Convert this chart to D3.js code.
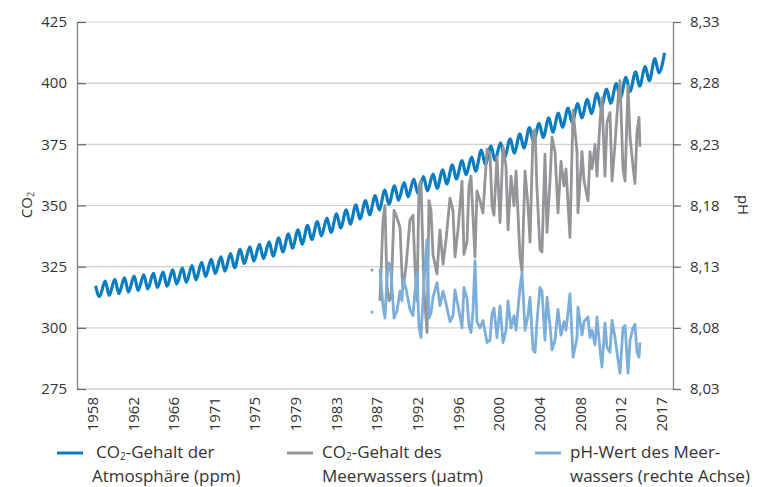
<!DOCTYPE html>
<html>
<head>
<meta charset="utf-8">
<script src="https://cdn.jsdelivr.net/npm/d3@7"></script>
<style>
  html, body { margin: 0; padding: 0; background: #fff; }
  svg { display: block; font-family: "Open Sans", sans-serif; }
</style>
</head>
<body>
<svg id="chart" width="765" height="487"></svg>
<script>
// ---------------- DATA ----------------
const xTickLabels = ["1958","1962","1966","1971","1975","1979","1983","1987","1992","1996","2000","2004","2008","2012","2017"];
const leftTicks = [275, 300, 325, 350, 375, 400, 425];
const rightTicks = [8.03, 8.08, 8.13, 8.18, 8.23, 8.28, 8.33];

// Atmospheric CO2 (ppm): yearly seasonal maximum and minimum
const atmYears = [1958,1959,1960,1961,1962,1963,1964,1965,1966,1967,1968,1969,1970,1971,1972,1973,1974,1975,1976,1977,1978,1979,1980,1981,1982,1983,1984,1985,1986,1987,1988,1989,1990,1991,1992,1993,1994,1995,1996,1997,1998,1999,2000,2001,2002,2003,2004,2005,2006,2007,2008,2009,2010,2011,2012,2013,2014,2015,2016,2017];
const atmPeak = [317.2,319.1,319.8,320.4,321.1,321.7,322.3,322.8,323.7,324.4,325.4,326.8,328.0,329.0,330.3,332.1,333.1,334.1,335.1,336.8,338.4,340.0,341.9,343.4,344.8,346.6,348.2,350.3,352.0,354.0,356.3,358.0,359.4,360.8,361.8,362.8,364.6,366.6,368.4,369.8,372.6,374.3,375.6,377.2,379.3,381.8,383.6,385.8,387.8,389.8,391.6,393.4,395.8,397.6,399.8,402.4,404.6,406.8,410.0,412.4];
const atmTrough = [312.8,313.3,314.0,314.6,315.3,315.9,316.5,317.0,317.9,318.6,319.6,321.0,322.2,323.2,324.5,326.3,327.3,328.3,329.3,331.0,332.6,334.2,336.1,337.6,339.0,340.8,342.4,344.5,346.2,348.2,350.5,352.2,353.6,355.0,356.0,357.0,358.8,360.8,362.6,364.0,366.8,368.5,369.8,371.4,373.5,376.0,377.8,380.0,382.0,384.0,385.8,387.6,390.0,391.8,394.0,396.6,398.8,401.0,404.2];

// Sea water samples: dates, CO2 (µatm) and pH
const seaDates = [1987.03,1987.86,1988.17,1988.38,1988.59,1988.80,1989.00,1989.32,1989.63,1989.94,1990.14,1990.25,1990.56,1990.97,1991.28,1991.49,1991.70,1991.91,1992.11,1992.43,1992.74,1992.94,1993.15,1993.36,1993.77,1994.08,1994.40,1994.71,1995.12,1995.43,1995.64,1995.95,1996.37,1996.57,1996.88,1997.09,1997.30,1997.51,1997.71,1997.92,1998.23,1998.54,1998.96,1999.27,1999.48,1999.68,1999.99,2000.31,2000.62,2000.93,2001.14,2001.45,2001.76,2001.97,2002.38,2002.59,2002.90,2003.21,2003.42,2003.73,2003.94,2004.14,2004.45,2004.66,2004.97,2005.18,2005.49,2005.70,2006.01,2006.32,2006.63,2006.94,2007.15,2007.56,2007.88,2008.29,2008.39,2008.81,2009.02,2009.43,2009.64,2009.85,2010.16,2010.36,2010.68,2010.88,2011.19,2011.40,2011.71,2011.92,2012.23,2012.54,2012.75,2013.06,2013.27,2013.58,2013.79,2014.10,2014.30,2014.51,2014.72,2014.82];
const seaCO2 = [323.6,311,344,350,317,311,312,348,345,341,322,316,325,344,346,325,311,358,360,315,298,352,348,330,322,340,326,336,353,348,329,340,360,330,335,358,362,345,329,356,352,347,373,371,350,346,370,343,374,366,340,362,350,364,329,323,364,350,335,380,381,357,332,331,371,339,360,378,372,347,368,358,365,337,389,372,347,372,360,352,372,365,375,362,385,394,362,384,388,360,375,393,401,365,360,399,378,366,359,380,386,374];
const seaPH = [8.093,8.128,8.098,8.088,8.122,8.133,8.126,8.088,8.094,8.110,8.102,8.120,8.112,8.095,8.090,8.110,8.125,8.080,8.072,8.118,8.152,8.088,8.092,8.105,8.117,8.098,8.110,8.100,8.085,8.090,8.111,8.098,8.080,8.113,8.104,8.082,8.076,8.094,8.135,8.085,8.080,8.086,8.068,8.070,8.092,8.096,8.072,8.098,8.068,8.078,8.102,8.080,8.090,8.078,8.113,8.125,8.078,8.090,8.105,8.062,8.060,8.085,8.113,8.110,8.070,8.105,8.082,8.062,8.070,8.095,8.074,8.085,8.078,8.108,8.056,8.072,8.097,8.074,8.085,8.089,8.072,8.078,8.066,8.089,8.062,8.048,8.084,8.064,8.060,8.086,8.072,8.054,8.043,8.080,8.082,8.043,8.070,8.080,8.083,8.060,8.056,8.068];

const legendItems = [
  { key: "atm", l1a: "CO", l1b: "-Gehalt der", l2: "Atmosphäre (ppm)" },
  { key: "sea", l1a: "CO", l1b: "-Gehalt des", l2: "Meerwassers (µatm)" },
  { key: "ph",  l1a: "pH-Wert des Meer-", l1b: null, l2: "wassers (rechte Achse)" }
];

// ---------------- STYLE / LAYOUT ----------------
const colors = { atm: "#0a7dc0", sea: "#939598", ph: "#7baedb" };
const plot = { left: 77, right: 673, top: 22, bottom: 389 };
const textColor = "#333";
const axisColor = "#8a8a8a";
const gridColor = "#cfcfcf";

const svg = d3.select("#chart");

const x = d3.scaleLinear().domain([1958, 2017]).range([92, 661]);
const y = d3.scaleLinear().domain([275, 425]).range([plot.bottom, plot.top]);
const yR = d3.scaleLinear().domain([8.03, 8.33]).range([plot.bottom, plot.top]);

// gridlines
svg.append("g").selectAll("line").data(leftTicks.slice(1)).join("line")
  .attr("x1", plot.left).attr("x2", plot.right)
  .attr("y1", d => y(d)).attr("y2", d => y(d))
  .attr("stroke", gridColor).attr("stroke-width", 1.2);

// bottom line
svg.append("line")
  .attr("x1", plot.left).attr("x2", plot.right)
  .attr("y1", plot.bottom).attr("y2", plot.bottom)
  .attr("stroke", gridColor).attr("stroke-width", 1.4);

// left axis
const gL = svg.append("g").attr("transform", `translate(${plot.left},0)`)
  .call(d3.axisLeft(y).tickValues(leftTicks).tickSize(-9).tickSizeOuter(0).tickPadding(10));
// right axis
const gR = svg.append("g").attr("transform", `translate(${plot.right},0)`)
  .call(d3.axisRight(yR).tickValues(rightTicks).tickSize(8).tickSizeOuter(0).tickPadding(9)
    .tickFormat(d => d3.format(".2f")(d).replace(".", ",")));
// bottom axis labels
const tickPos = d3.range(xTickLabels.length).map(i => 1958 + i * (2017 - 1958) / (xTickLabels.length - 1));
const gB = svg.append("g").attr("transform", `translate(0,${plot.bottom})`)
  .call(d3.axisBottom(x).tickValues(tickPos).tickSize(0).tickFormat((d, i) => xTickLabels[i]));
gB.select(".domain").remove();
gB.selectAll("text")
  .attr("transform", "rotate(-90)")
  .attr("text-anchor", "end")
  .attr("x", -8).attr("y", 0).attr("dy", "0.36em");

[gL, gR, gB].forEach(g => {
  g.selectAll(".domain").attr("stroke", axisColor).attr("stroke-width", 1.4);
  g.selectAll(".tick line").attr("stroke", "#666").attr("stroke-width", 1.2);
  g.selectAll("text").attr("fill", textColor).style("font-size", "15px").style("font-family", "'Open Sans', sans-serif");
});

// axis titles
const tl = svg.append("text").attr("transform", "translate(32,205) rotate(-90)")
  .attr("text-anchor", "middle").attr("fill", textColor).style("font-size", "15px");
tl.append("tspan").text("CO");
tl.append("tspan").text("2").style("font-size", "9px").attr("dy", 2);
svg.append("text").attr("transform", "translate(738,205) rotate(90)")
  .attr("text-anchor", "middle").attr("fill", textColor).style("font-size", "15px").text("pH");

// ---------------- SERIES ----------------
const atmPts = [];
atmYears.forEach((yr, i) => {
  atmPts.push({ t: yr + 0.37, v: atmPeak[i] });
  if (i < atmTrough.length) atmPts.push({ t: yr + 0.78, v: atmTrough[i] });
});

function segments(dates, vals) {
  const segs = [];
  let cur = [];
  dates.forEach((t, i) => {
    if (cur.length && t - cur[cur.length - 1].t > 0.6) { segs.push(cur); cur = []; }
    cur.push({ t, v: vals[i] });
  });
  if (cur.length) segs.push(cur);
  return segs;
}

const atmLine = d3.line().x(d => x(d.t)).y(d => y(d.v)).curve(d3.curveMonotoneX);
svg.append("path").datum(atmPts).attr("d", atmLine)
  .attr("fill", "none").attr("stroke", colors.atm).attr("stroke-width", 3.2)
  .attr("stroke-linejoin", "round");

function drawSea(vals, scale, color) {
  const ln = d3.line().x(d => x(d.t)).y(d => scale(d.v));
  const g = svg.append("g");
  segments(seaDates, vals).forEach(seg => {
    if (seg.length === 1) {
      g.append("circle").attr("cx", x(seg[0].t)).attr("cy", scale(seg[0].v))
        .attr("r", 1.5).attr("fill", color);
    } else {
      g.append("path").datum(seg).attr("d", ln)
        .attr("fill", "none").attr("stroke", color).attr("stroke-width", 2.8)
        .attr("stroke-linejoin", "round");
    }
  });
}
drawSea(seaCO2, y, colors.sea);
drawSea(seaPH, yR, colors.ph);

// ---------------- LEGEND ----------------
const legendX = [57, 287, 535];
legendItems.forEach((it, i) => {
  const lx = legendX[i];
  svg.append("line").attr("x1", lx).attr("x2", lx + 26).attr("y1", 453).attr("y2", 453)
    .attr("stroke", colors[it.key]).attr("stroke-width", 3);
  const tx = lx + 35;
  const t1 = svg.append("text").attr("x", i === 0 ? tx + 4 : tx).attr("y", 458)
    .attr("fill", textColor).style("font-size", "17px");
  t1.append("tspan").text(it.l1a);
  if (it.l1b) {
    t1.append("tspan").text("2").style("font-size", "10px").attr("dy", 1.5);
    t1.append("tspan").text(it.l1b).attr("dy", -1.5);
  }
  svg.append("text").attr("x", tx).attr("y", 482)
    .attr("fill", textColor).style("font-size", "17px").text(it.l2);
});
</script>
</body>
</html>
